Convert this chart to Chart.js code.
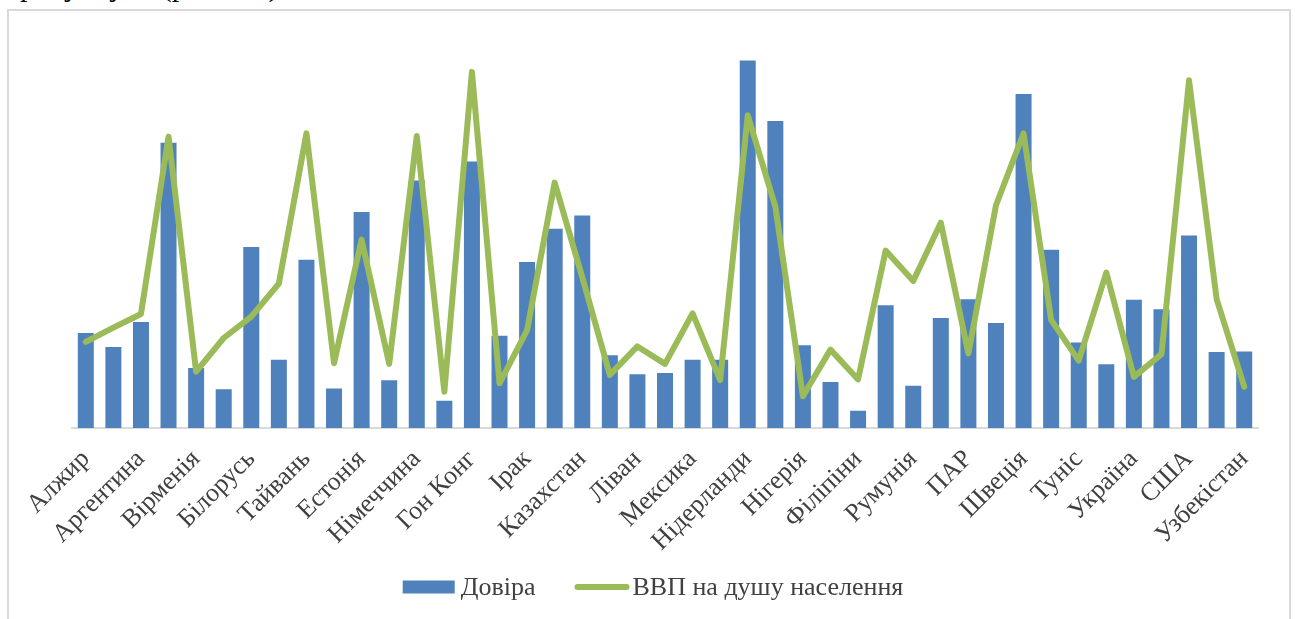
<!DOCTYPE html>
<html lang="uk">
<head>
<meta charset="utf-8">
<title>Довіра та ВВП на душу населення</title>
<script src="https://cdn.jsdelivr.net/npm/chart.js@4.4.1/dist/chart.umd.min.js"></script>
<style>
  html, body { margin: 0; padding: 0; background: #fff; overflow: hidden; }
  body { width: 1295px; height: 619px; position: relative; }
  .lead {
    position: absolute; left: 20px; top: -29px; margin: 0;
    font: 30px "Liberation Serif", "Times New Roman", serif; line-height: 30px;
    color: #000; white-space: nowrap;
  }
  .lead span { margin-left: 30px; }
  .frame {
    position: absolute; left: 7px; top: 9px; width: 1284px; height: 640px;
    border: 2px solid #d9d9d9; box-sizing: border-box;
  }
  #chart { position: absolute; left: 0; top: 0; }
</style>
</head>
<body>
<p class="lead">рисунку <span>(рис. 3.5).</span></p>
<div class="frame"></div>
<canvas id="chart" width="1295" height="619"></canvas>
<script>
// країни (підписано кожну другу)
const countries = [
  "Алжир", "Азербайджан", "Аргентина", "Австралія", "Вірменія", "Бразилія",
  "Білорусь", "Чилі", "Тайвань", "Еквадор", "Естонія", "Грузія",
  "Німеччина", "Гана", "Гон Конг", "Індія", "Ірак", "Японія",
  "Казахстан", "Йорданія", "Ліван", "Лівія", "Мексика", "Марокко",
  "Нідерланди", "Нова Зеландія", "Нігерія", "Перу", "Філіпіни", "Польща",
  "Румунія", "Словенія", "ПАР", "Іспанія", "Швеція", "Таїланд",
  "Туніс", "Туреччина", "Україна", "Єгипет", "США", "Уругвай", "Узбекістан"
];

// частка тих, хто довіряє більшості людей, %
const trust = [
  17.1, 14.6, 19.1, 51.4, 10.8, 7.0,
  32.6, 12.3, 30.3, 7.1, 38.9, 8.6,
  44.6, 4.9, 48.0, 16.6, 29.9, 35.9,
  38.3, 13.1, 9.7, 9.9, 12.3, 12.3,
  66.2, 55.3, 14.9, 8.3, 3.1, 22.1,
  7.6, 19.8, 23.2, 18.9, 60.2, 32.1,
  15.4, 11.5, 23.1, 21.4, 34.7, 13.7, 13.8
];

// ВВП на душу населення, дол. США (ПКС)
const gdpPerCapita = [
  13300, 15500, 17600, 45000, 8700, 13900,
  17200, 22300, 45500, 10000, 29100, 9900,
  45100, 5600, 55000, 6900, 15100, 37900,
  23300, 8200, 12600, 9900, 17700, 7400,
  48300, 34200, 4900, 12100, 7500, 27400,
  22700, 31700, 11500, 34400, 45500, 16700,
  10400, 24000, 7900, 11400, 53700, 19900, 6400
];

const trustMax = 70;
const gdpMax = 60000;

const BLUE = "#4f81bd";
const GREEN = "#9bbb59";
const TEXT = "#404040";
const SERIF = '"Liberation Serif", "Times New Roman", serif';

// легенда під графіком: прямокутник для стовпців, лінія для ВВП
const bottomLegend = {
  id: "bottomLegend",
  afterDraw(chart) {
    const ctx = chart.ctx;
    const items = chart.data.datasets.slice().sort((a, b) => b.order - a.order);
    ctx.save();
    ctx.font = "26px " + SERIF;
    ctx.textBaseline = "middle";
    const symW = { bar: 52, line: 55 };
    const gapText = { bar: 6, line: 3 };
    const gapItem = 39;
    const widthOf = (ds) => symW[ds.type] + gapText[ds.type] + ctx.measureText(ds.label).width;
    const total = items.reduce((s, ds) => s + widthOf(ds), 0) + gapItem * (items.length - 1);
    let x = 653 - total / 2;
    const y = 587;
    items.forEach((ds) => {
      if (ds.type === "line") {
        ctx.strokeStyle = ds.borderColor;
        ctx.lineWidth = 6;
        ctx.lineCap = "round";
        ctx.beginPath();
        ctx.moveTo(x + 3, y);
        ctx.lineTo(x + symW.line - 3, y);
        ctx.stroke();
      } else {
        ctx.fillStyle = ds.backgroundColor;
        ctx.fillRect(x, y - 6.5, symW.bar, 13);
      }
      const tx = x + symW[ds.type] + gapText[ds.type];
      ctx.fillStyle = TEXT;
      ctx.fillText(ds.label, tx, y + 1);
      x += widthOf(ds) + gapItem;
    });
    ctx.restore();
  }
};

new Chart(document.getElementById("chart"), {
  type: "bar",
  data: {
    labels: countries,
    datasets: [
      {
        type: "line",
        label: "ВВП на душу населення",
        data: gdpPerCapita,
        yAxisID: "yGdp",
        borderColor: GREEN,
        backgroundColor: GREEN,
        borderWidth: 6,
        borderCapStyle: "round",
        borderJoinStyle: "round",
        pointRadius: 0,
        tension: 0,
        order: 0
      },
      {
        type: "bar",
        label: "Довіра",
        data: trust,
        yAxisID: "yTrust",
        backgroundColor: BLUE,
        categoryPercentage: 1,
        barPercentage: 0.58,
        order: 1
      }
    ]
  },
  options: {
    responsive: false,
    animation: false,
    layout: { padding: { left: 72, right: 37, top: 39.5, bottom: 0 } },
    plugins: {
      legend: { display: false },
      tooltip: { enabled: false }
    },
    scales: {
      x: {
        grid: { display: false },
        border: { display: true, color: "#d9d9d9", width: 2 },
        ticks: {
          autoSkip: false,
          minRotation: 45,
          maxRotation: 45,
          padding: 8,
          color: TEXT,
          font: { family: SERIF, size: 26 },
          callback: function (value, index) {
            return index % 2 === 0 ? this.getLabelForValue(value) : "";
          }
        },
        afterFit(scale) { scale.height = 619 - 428; }
      },
      yTrust: { display: false, min: 0, max: trustMax },
      yGdp: { display: false, min: 0, max: gdpMax }
    }
  },
  plugins: [bottomLegend]
});
</script>
</body>
</html>
